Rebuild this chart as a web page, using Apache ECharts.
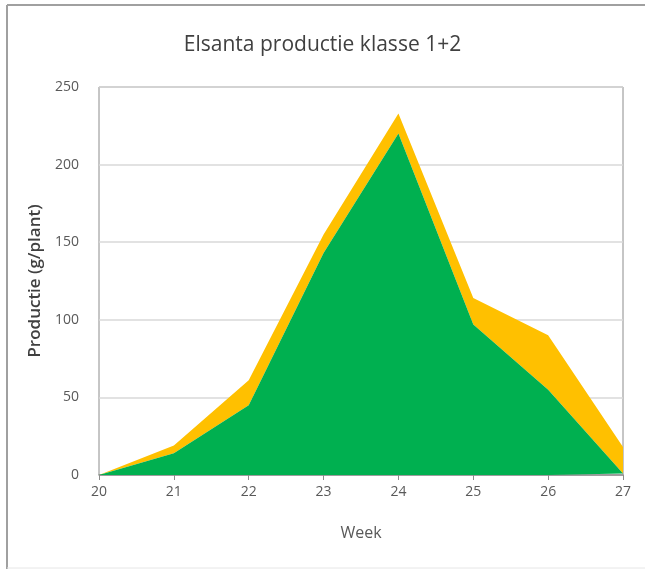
<!DOCTYPE html>
<html><head><meta charset="utf-8">
<script src="https://cdn.jsdelivr.net/npm/echarts@6/dist/echarts.min.js"></script>
<style>html,body{margin:0;padding:0;background:#fff}#c{width:645px;height:569px}</style>
</head><body><div id="c"></div>
<script>
const weeks = ['20', '21', '22', '23', '24', '25', '26', '27'];
const klasse1 = [0, 14, 45, 143, 220, 97, 55, 1];
const klasse2 = [0, 5, 16, 12, 13, 17, 35, 17];
const yTicks = [0, 50, 100, 150, 200, 250];

const FONT = 'Open Sans';
const chart = echarts.init(document.getElementById('c'));
chart.setOption({
  animation: false,
  textStyle: { fontFamily: FONT },
  title: {
    text: 'Elsanta productie klasse 1+2',
    left: 'center', top: 30,
    textStyle: { fontFamily: FONT, fontSize: 21, fontWeight: 'normal', color: '#404040' }
  },
  graphic: [
    { type: 'line', shape: { x1: 7, y1: 5, x2: 645, y2: 5 }, style: { stroke: '#a0a0a0', lineWidth: 2 }, silent: true },
    { type: 'line', shape: { x1: 7, y1: 5, x2: 7, y2: 569 }, style: { stroke: '#a0a0a0', lineWidth: 2 }, silent: true },
    { type: 'line', shape: { x1: 7, y1: 568, x2: 645, y2: 568 }, style: { stroke: '#e6e6e6', lineWidth: 1 }, silent: true }
  ],
  grid: { left: 99, right: 22, top: 87, bottom: 94, show: true, borderColor: '#8c8c8c', borderWidth: 1 },
  xAxis: {
    type: 'category', data: weeks, boundaryGap: false,
    name: 'Week', nameLocation: 'middle', nameGap: 50,
    nameTextStyle: { fontFamily: FONT, fontSize: 16, color: '#595959' },
    axisLine: { show: true, lineStyle: { color: '#8c8c8c', width: 1.5 } },
    axisTick: { show: true, length: 5, alignWithLabel: true, lineStyle: { color: '#8c8c8c' } },
    axisLabel: { fontFamily: FONT, fontSize: 14, color: '#595959', margin: 10 },
    splitLine: { show: false }
  },
  yAxis: {
    type: 'value', min: yTicks[0], max: yTicks[yTicks.length - 1], interval: 50,
    name: 'Productie (g/plant)', nameLocation: 'middle', nameGap: 47,
    nameTextStyle: { fontFamily: FONT, fontSize: 17, color: '#404040', fontWeight: 600 },
    axisLine: { show: false },
    axisTick: { show: false },
    axisLabel: { fontFamily: FONT, fontSize: 14, color: '#595959', margin: 20 },
    splitLine: { show: true, lineStyle: { color: '#d9d9d9', width: 1.5 } }
  },
  series: [
    {
      name: 'Klasse 1', type: 'line', stack: 'p', symbol: 'none',
      data: klasse1,
      lineStyle: { width: 0 }, areaStyle: { color: '#00b050', opacity: 1 }, z: 3
    },
    {
      name: 'Klasse 2', type: 'line', stack: 'p', symbol: 'none',
      data: klasse2,
      lineStyle: { width: 0 }, areaStyle: { color: '#ffc000', opacity: 1 }, z: 2
    }
  ]
});
</script></body></html>
